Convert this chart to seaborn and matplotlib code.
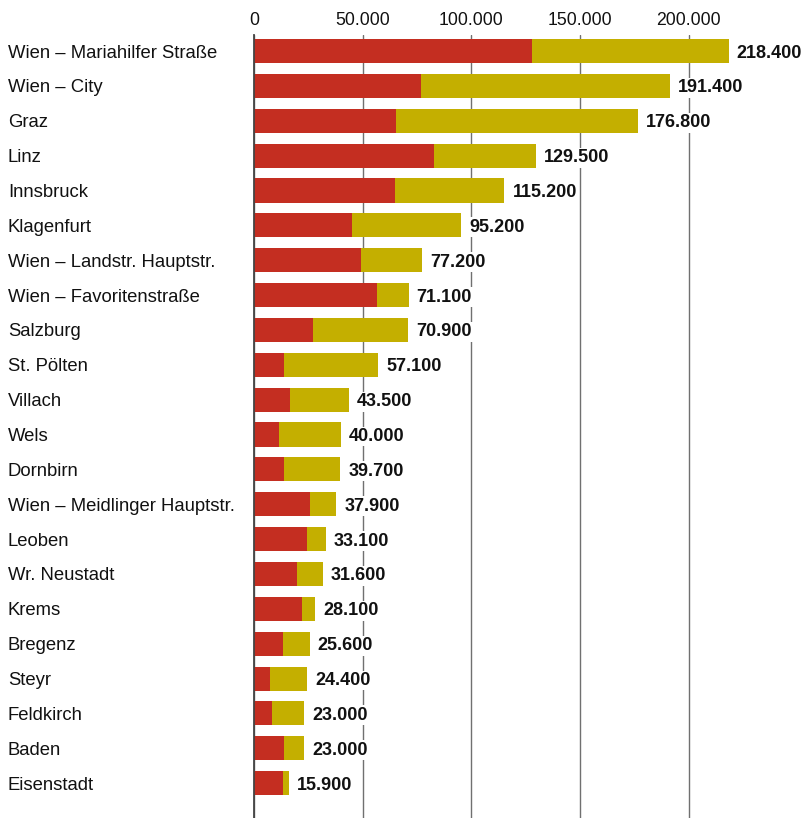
import matplotlib
matplotlib.use("Agg")
import matplotlib.pyplot as plt
import seaborn as sns
import pandas as pd

cities = ["Wien – Mariahilfer Straße", "Wien – City", "Graz", "Linz", "Innsbruck",
          "Klagenfurt", "Wien – Landstr. Hauptstr.", "Wien – Favoritenstraße",
          "Salzburg", "St. Pölten", "Villach", "Wels", "Dornbirn",
          "Wien – Meidlinger Hauptstr.", "Leoben", "Wr. Neustadt", "Krems",
          "Bregenz", "Steyr", "Feldkirch", "Baden", "Eisenstadt"]
totals = [218400, 191400, 176800, 129500, 115200, 95200, 77200, 71100, 70900,
          57100, 43500, 40000, 39700, 37900, 33100, 31600, 28100, 25600, 24400,
          23000, 23000, 15900]
red_part = [127900, 76800, 65300, 82800, 64900, 45100, 49200, 56600, 27100,
            13800, 16600, 11500, 13800, 25800, 24400, 19800, 22100, 13300, 7400,
            8300, 13800, 13300]
xticks = [0, 50000, 100000, 150000, 200000]
xtick_labels = ["0", "50.000", "100.000", "150.000", "200.000"]

RED = "#C42E21"
YELLOW = "#C4AF00"

df = pd.DataFrame({"city": cities, "total": totals, "red": red_part})

sns.set_style("white")
plt.rcParams["font.family"] = ["Liberation Sans", "DejaVu Sans"]

fig = plt.figure(figsize=(8.03, 8.18), dpi=100)
W, H = 803, 818
ax = fig.add_axes([254 / W, 0.0, (W - 254) / W, (H - 35) / H])

sns.barplot(data=df, x="total", y="city", color=YELLOW, saturation=1,
            orient="h", width=0.69, ax=ax, zorder=2, linewidth=0)
sns.barplot(data=df, x="red", y="city", color=RED, saturation=1,
            orient="h", width=0.69, ax=ax, zorder=3, linewidth=0)

ax.set_xlim(0, (W - 254) * 460)
ax.set_ylim(len(cities) - 1 + 1.0, -0.46)

ax.set_xlabel("")
ax.set_ylabel("")
ax.xaxis.tick_top()
ax.set_xticks(xticks)
ax.set_xticklabels(xtick_labels, fontsize=12.7, color="#111111")
ax.tick_params(axis="x", length=0, pad=4)
ax.grid(axis="x", color="#707070", linewidth=1.0, zorder=0)
ax.grid(axis="y", visible=False)
ax.set_axisbelow(True)

ax.tick_params(axis="y", length=0, pad=246 * 0.72)
for lab in ax.get_yticklabels():
    lab.set_horizontalalignment("left")
    lab.set_fontsize(13.3)
    lab.set_color("#111111")

for s in ["top", "right", "bottom"]:
    ax.spines[s].set_visible(False)
ax.spines["left"].set_color("#444444")
ax.spines["left"].set_linewidth(1.3)
ax.spines["left"].set_zorder(4)

for i, t in enumerate(totals):
    lbl = f"{t:,}".replace(",", ".")
    ax.text(t + 8 * 460, i, lbl, va="center_baseline", ha="left", fontsize=13,
            fontweight="bold", color="#111111", zorder=5, clip_on=False,
            bbox=dict(facecolor="white", edgecolor="none", pad=1.0))

fig.savefig("out.png", dpi=100)
